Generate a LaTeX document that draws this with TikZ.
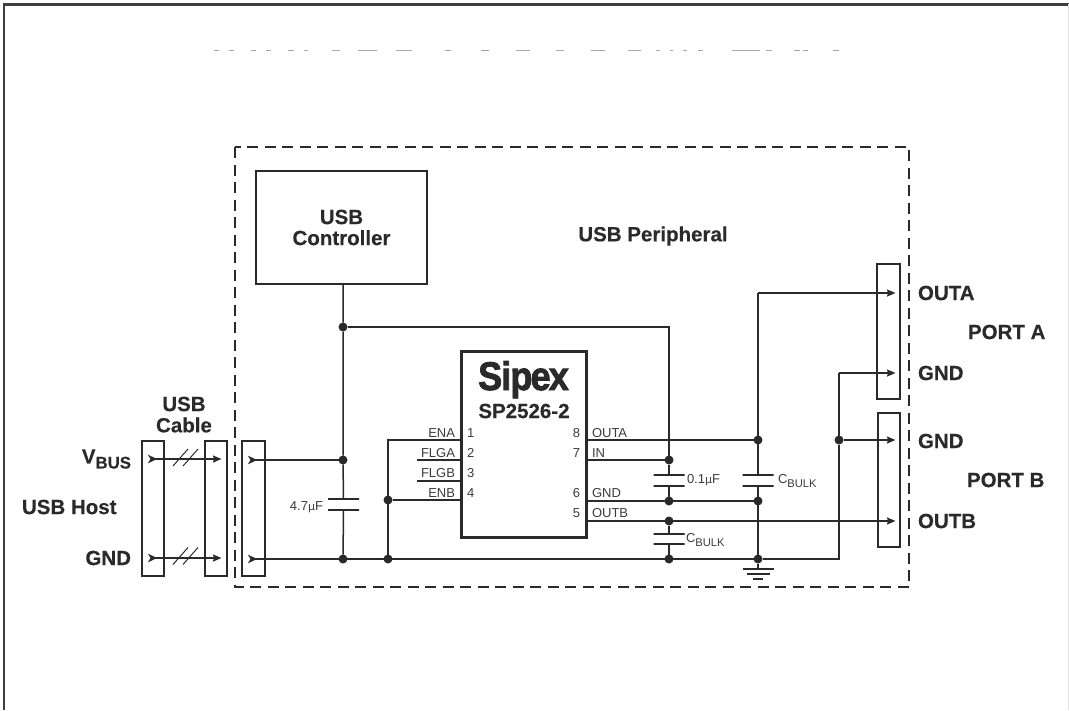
\documentclass[tikz,border=0pt]{standalone}
\usepackage{fontspec}
\setmainfont{Liberation Sans}[BoldFeatures={FakeBold=0.35}]
\newfontfamily\logofont{Liberation Sans}[BoldFeatures={FakeBold=2.2}]
\usetikzlibrary{arrows.meta}
\definecolor{ink}{HTML}{2B2A2A}
\definecolor{smallink}{HTML}{3C3B3B}
\newcommand{\bulklab}{C\raisebox{-3.5pt}{\fontsize{11.2}{13}\selectfont BULK}}
\newcommand{\mulab}{{\fontspec{DejaVu Sans}\fontsize{11}{13}\selectfont µ}}
\begin{document}
\begin{tikzpicture}
  [
    x=1pt, y=-1pt,
    inner sep=0pt, outer sep=0pt,
    color=ink,
    box/.style =
      {draw=ink, line width=1.5pt, minimum width=#1},
    wire/.style =
      {draw=ink, line width=1.5pt},
    awire/.style =
      {wire, -{Stealth[length=8.5pt, width=7pt, inset=1pt]}},
    cwire/.style =
      {wire, {Stealth[reversed, length=9pt, width=8.5pt, inset=2.5pt]}-{Stealth[length=8.5pt, width=7pt, inset=1pt]}},
    lwire/.style =
      {wire, {Stealth[reversed, length=9pt, width=8.5pt, inset=2.5pt]}-},
    dot/.style =
      {circle, fill=ink, minimum size=9pt},
    plate/.style =
      {draw=ink, line width=1.5pt, minimum width=31pt, minimum height=0pt},
    big/.style =
      {font=\fontsize{20.5}{21}\selectfont\bfseries, align=center},
    small/.style =
      {font=\fontsize{13}{15}\selectfont, text=smallink},
    pinlab/.style =
      {small, anchor=base}
  ]
  \useasboundingbox (0, 0) rectangle (1069, 710);
  \draw [line width=2.4pt, draw=ink!90] (4, 710) -- (4, 4.5) -- (1069, 4.5);
  \draw [line width=1pt, draw=black!12] (1068.5, 4) -- (1068.5, 710);
  \foreach \xa/\xb in {214/219, 229/234, 251/256, 266/271, 288/294, 304/308, 332/340,
    358/377, 396/412, 445/451, 481/489, 516/530, 556/564, 591/605, 628/641, 656/660,
    670/673, 683/687, 698/703, 732/760, 766/772, 794/800, 803/808, 833/839}
    \draw [line width=1pt, draw=black!35] (\xa, 50.5) -- (\xb, 50.5);

  \draw [line width=1.4pt, dash pattern=on 11pt off 6.5pt] (235, 147) rectangle (909, 587);

  \node [box=171pt, minimum height=113pt, big] at (341.5, 227.5) (ctrl) {USB\\Controller};
  \node [big] at (653, 236) (periph) {USB Peripheral};
  \node [draw=ink, line width=3pt, minimum width=125pt, minimum height=186pt] at (523.5, 444) (ic) {};
  \node [box=22pt, minimum height=135pt] at (153, 508.5) (host) {};
  \node [box=22pt, minimum height=135pt] at (216, 508.5) (cable) {};
  \node [box=23pt, minimum height=135pt] at (253.5, 508.5) (plug) {};
  \node [box=23pt, minimum height=135pt] at (888.5, 331.5) (porta) {};
  \node [box=22pt, minimum height=134pt] at (889, 480) (portb) {};

  \node [font=\logofont\fontsize{40}{40}\selectfont\bfseries, xscale=.9, anchor=base] at (523.5, 390) (logo) {S\kern-1pt i\kern-1pt p\kern-2pt e\kern-2pt x};
  \node [big] at (524, 411) (part) {SP2526-2};

  \node [big] at (184, 404) (usb) {USB};
  \node [big] at (184, 425) (cablelab) {Cable};
  \node [big, anchor=east] at (131, 459) (vbus) {V\raisebox{-5pt}{\fontsize{16.8}{18}\selectfont BUS}};
  \node [big, anchor=west] at (22, 507) (hostlab) {USB Host};
  \node [big, anchor=east] at (131, 558) (hostgnd) {GND};
  \node [big, anchor=west] at (918, 293) (outa) {OUTA};
  \node [big, anchor=west] at (918, 373) (gnda) {GND};
  \node [big, anchor=west] at (918, 441) (gndb) {GND};
  \node [big, anchor=west] at (918, 521) (outb) {OUTB};
  \node [big, anchor=west] at (968, 332) (porta lab) {PORT A};
  \node [big, anchor=west] at (967, 480) (portb lab) {PORT B};

  \foreach \pname/\py/\ptext in {a/437/ENA, b/457/FLGA, c/477/FLGB, d/497/ENB}
    \node [pinlab, anchor=base east] at (455, \py) (lab\pname) {\ptext};
  \foreach \pnum/\py in {1/437, 2/457, 3/477, 4/497}
    \node [pinlab, anchor=base west] at (467, \py) (num\pnum) {\pnum};
  \foreach \pnum/\py in {8/437, 7/457, 6/497, 5/517}
    \node [pinlab, anchor=base east] at (580, \py) (num\pnum) {\pnum};
  \foreach \pname/\py/\ptext in {e/437/OUTA, f/457/IN, g/497/GND, h/517/OUTB}
    \node [pinlab, anchor=base west] at (592, \py) (lab\pname) {\ptext};

  \node [dot] at (343, 327) (jctrl) {};
  \node [dot] at (343, 460) (jvbus) {};
  \node [dot] at (343, 559) (jgnd) {};
  \node [dot] at (388, 559) (jena) {};
  \node [dot] at (388, 500) (jenb) {};
  \node [dot] at (669, 460) (jin) {};
  \node [dot] at (669, 501) (jgi) {};
  \node [dot] at (669, 521) (joutb) {};
  \node [dot] at (669, 559) (jbulk) {};
  \node [dot] at (758, 440) (jouta) {};
  \node [dot] at (758, 501) (jgo) {};
  \node [dot] at (758, 559) (jrail) {};
  \node [dot] at (839, 440) (jport) {};

  \node [plate] at (343.5, 499) (c1a) {};
  \node [plate] at (343.5, 510) (c1b) {};
  \node [plate] at (669, 475) (c2a) {};
  \node [plate] at (669, 486) (c2b) {};
  \node [plate] at (669, 534) (c3a) {};
  \node [plate] at (669, 544) (c3b) {};
  \node [plate] at (758, 475) (c4a) {};
  \node [plate] at (758, 486) (c4b) {};

  \node [small, anchor=east] at (323, 507) (c1lab) {4.7\mulab F};
  \node [small, anchor=west] at (687, 480.5) (c2lab) {0.1\mulab F};
  \node [small, anchor=west] at (686, 540) (c3lab) {\bulklab};
  \node [small, anchor=west] at (778, 481) (c4lab) {\bulklab};

  \coordinate (ena) at (461, 440);
  \coordinate (flga) at (461, 460);
  \coordinate (flgae) at (417, 460);
  \coordinate (flgb) at (461, 481);
  \coordinate (flgbe) at (417, 481);
  \coordinate (enb) at (461, 500);
  \coordinate (pouta) at (586, 440);
  \coordinate (pin) at (586, 460);
  \coordinate (pgnd) at (586, 501);
  \coordinate (poutb) at (586, 521);
  \coordinate (hv) at (148, 459);
  \coordinate (hg) at (148, 558);
  \coordinate (cv) at (221.5, 459);
  \coordinate (cg) at (221.5, 558);
  \coordinate (pv) at (248, 460);
  \coordinate (pg) at (248, 559);
  \coordinate (tiptopa) at (895.5, 293);
  \coordinate (tipgnda) at (895.5, 373);
  \coordinate (tipgndb) at (895.5, 440);
  \coordinate (tipoutb) at (895.5, 521);
  \coordinate (gtop) at (758, 569);
  \coordinate (g2) at (746.5, 574);
  \coordinate (g3) at (753, 579);

  \draw [cwire] (hv) -- (cv);
  \draw [cwire] (hg) -- (cg);
  \foreach \sy in {466, 564.5} \foreach \sx in {173, 183}
    \draw [line width=1pt] (\sx, \sy) -- ++(15, -17);

  \draw [lwire] (pv) -- (jvbus);
  \draw [lwire] (pg) -- (jrail);
  \draw [wire] (ctrl.south -| jctrl) -- (jctrl) -- (jvbus) -- (c1a);
  \draw [wire] (jctrl) -| (jin);
  \draw [wire] (c1b) -- (jgnd);
  \draw [wire] (jena) |- (ena);
  \draw [wire] (jenb) -- (enb);
  \draw [wire] (flgae) -- (flga);
  \draw [wire] (flgbe) -- (flgb);
  \draw [wire] (pouta) -- (jouta);
  \draw [wire] (pin) -- (jin) -- (c2a);
  \draw [wire] (c2b) -- (jgi);
  \draw [wire] (pgnd) -- (jgo);
  \draw [awire] (poutb) -- (tipoutb);
  \draw [wire] (joutb) -- (c3a);
  \draw [wire] (c3b) -- (jbulk);
  \draw [awire] (jouta |- tiptopa) -- (tiptopa);
  \draw [wire] (jouta |- tiptopa) -- (c4a);
  \draw [wire] (c4b) -- (jrail) -- (gtop);
  \draw [wire] (jrail) -| (jport);
  \draw [awire] (jport |- tipgnda) -- (tipgnda);
  \draw [wire] (jport |- tipgnda) -- (jport);
  \draw [awire] (jport) -- (tipgndb);

  \draw [wire] (742.5, 569) -- (773.5, 569);
  \draw [wire] (g2) -- ++(23, 0);
  \draw [wire] (g3) -- ++(10, 0);
\end{tikzpicture}
\end{document}
